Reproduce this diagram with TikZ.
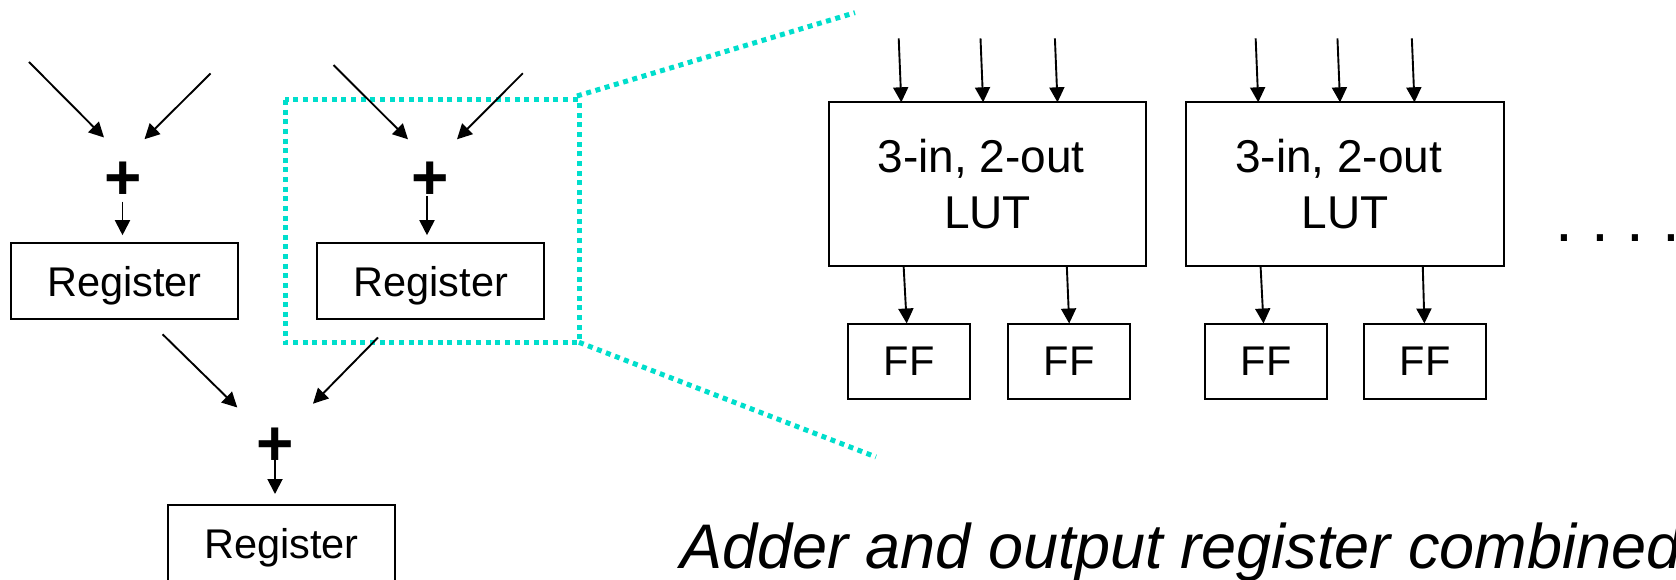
\documentclass[tikz,border=0pt]{standalone}
\usepackage{fontspec}
\setmainfont{Liberation Sans}
\usetikzlibrary{arrows.meta,calc}
\definecolor{zoomcyan}{RGB}{0,222,204}

\begin{document}
\begin{tikzpicture}[x=1pt,y=-1pt,
  every node/.style={inner sep=0pt, outer sep=0pt},
  reg/.style={draw, line width=2pt, minimum width=227pt, minimum height=76pt,
    font=\fontsize{41.5}{41.5}\selectfont, text depth=0pt},
  ff/.style={draw, line width=2pt, minimum width=122pt, minimum height=75pt,
    font=\fontsize{41.5}{41.5}\selectfont, text depth=0pt},
  lut/.style={draw, line width=2pt, minimum width=317pt, minimum height=163.4pt,
    align=center, font=\fontsize{46}{56.7}\selectfont},
  plus/.style={font=\fontsize{64}{64}\selectfont\bfseries},
  arr/.style={line width=1.9pt, -{Triangle[length=15pt,width=15pt]}},
  zoomline/.style={draw=zoomcyan, line width=5pt, dash pattern=on 5pt off 4.63pt},
]
\useasboundingbox (0,0) rectangle (1676,580);
\clip (0,0) rectangle (1676,580);

% magnifier frame around the second adder stage
\draw[zoomline] (285,100) rectangle (579,342.3);
\coordinate (zt) at (855,12.7);
\coordinate (zb) at (876,457);
\draw[zoomline] (577,96) -- (zt);
\draw[zoomline] (579,342.3) -- (zb);

% adder tree
\node[plus] (p1) at (123.2,180.7) {+};
\node[plus] (p2) at (430.2,180.7) {+};
\node[plus] (p3) at (275.3,447) {+};

\node[reg] (r1) at (124.4,281.2) {Register};
\node[reg] (r2) at (430.8,281.2) {Register};
\node[reg] (r3) at (281.5,543) {Register};

\coordinate (a1s) at (29,62);    \coordinate (a1e) at (104,137.5);
\coordinate (b1s) at (210.5,73.5); \coordinate (b1e) at (144.5,139.2);
\coordinate (a2s) at (333.5,65); \coordinate (a2e) at (408,139.3);
\coordinate (b2s) at (522.8,73.3); \coordinate (b2e) at (457,139.3);
\coordinate (a3s) at (162.6,334.3); \coordinate (a3e) at (237.3,407.5);
\coordinate (b3s) at (378,337.5); \coordinate (b3e) at (313,403.7);
\draw[arr] (a1s) -- (a1e);
\draw[arr] (b1s) -- (b1e);
\draw[arr] (a2s) -- (a2e);
\draw[arr] (b2s) -- (b2e);
\draw[arr] (a3s) -- (a3e);
\draw[arr] (b3s) -- (b3e);

\coordinate (o1) at (122.5,201.7);
\coordinate (o2) at (427,196);
\coordinate (o3) at (275,455);
\draw[arr, shorten >=8pt] (o1) -- (o1 |- r1.north);
\draw[arr, shorten >=8pt] (o2) -- (o2 |- r2.north);
\draw[arr, shorten >=11pt] (o3) -- (o3 |- r3.north);

% LUT / flip-flop blocks
\node[lut] (l1) at (987.6,184) {3-in, 2-out\hspace*{13pt}\\LUT};
\node[lut, minimum width=318.3pt] (l2) at (1345.2,184) {3-in, 2-out\hspace*{13pt}\\LUT};

\node[ff] (f1) at (909.2,361) {FF};
\node[ff] (f2) at (1069.2,361) {FF};
\node[ff] (f3) at (1266,361) {FF};
\node[ff] (f4) at (1425,361) {FF};

\foreach \l/\n in {l1/1, l2/2} {
  \foreach \dx [count=\k] in {72.2,154,228.4} {
    \coordinate (in\n\k) at ($(\l.north west)+(\dx-2.6,-64)$);
    \draw[arr] (in\n\k) -- ($(\l.north west)+(\dx,0)$);
  }
}

\draw[arr] ($(l1.south west)+(74.5,0)$) -- ($(f1.north)+(-2.5,0)$);
\draw[arr] ($(l1.south west)+(237.7,0)$) -- ($(f2.north)+(0,0)$);
\draw[arr] ($(l2.south west)+(74.5,0)$) -- ($(f3.north)+(-2.5,0)$);
\draw[arr] ($(l2.south west)+(236.7,0)$) -- ($(f4.north)+(-0.6,0)$);

\node[anchor=base east, font=\fontsize{64}{64}\selectfont] (more) at (1676,241)
  {.\hspace{17.8pt}.\hspace{17.8pt}.\hspace{17.8pt}.\kern-4pt};

\node[anchor=base west, font=\fontsize{63}{63}\selectfont\itshape] (cap) at (680,568)
  {Adder and output register combined};
\end{tikzpicture}
\end{document}
